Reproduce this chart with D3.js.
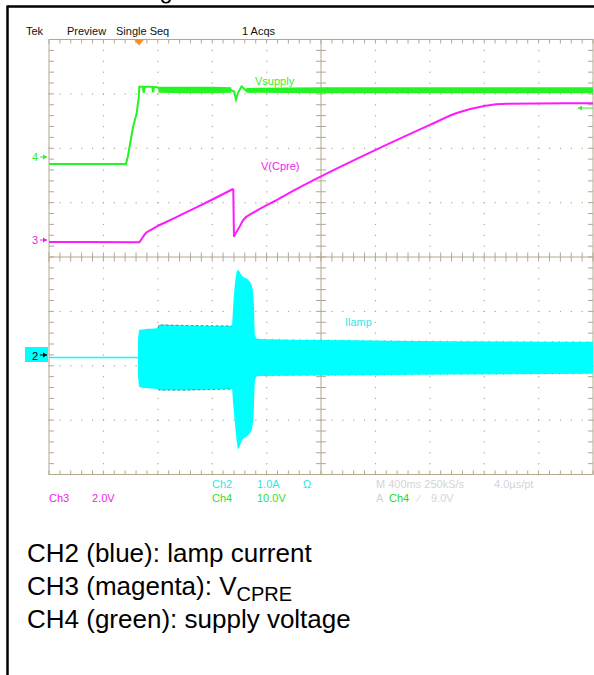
<!DOCTYPE html>
<html>
<head>
<meta charset="utf-8">
<script src="https://cdn.jsdelivr.net/npm/d3@7"></script>
<style>
    body { margin: 0; background: #fff; }
    text { font-family: "Liberation Sans", Arial, Helvetica, sans-serif; }
</style>
</head>
<body>
<div id="container"></div>
<script>
// time in ms from left edge of screen (400 ms/div)
const ch4T = [0, 566, 579, 618, 645, 660, 664, 690, 697, 703, 760, 766, 772, 800, 816, 1340, 1362, 1375, 1390, 1416, 1450, 4000];
const ch4V = [-1.3, -1.3, 0, 5.5, 8.1, 11.0, 12.9, 12.9, 11.8, 12.9, 12.9, 11.9, 12.9, 12.8, 12.3, 12.3, 12.0, 10.6, 11.8, 13.0, 12.2, 12.2];
// noisy band of the supply trace (null = gap)
const ch4BandT = [805, 1000, 1200, 1340, null, 1450, 2000, 3000, 4000];
const ch4BandHi = [12.9, 12.9, 12.9, 12.8, null, 12.7, 12.8, 12.8, 12.8];
const ch4BandLo = [11.8, 11.7, 11.7, 11.8, null, 11.8, 11.7, 11.7, 11.7];

// charge ramp before the drop, then recovery after it
const ch3RampT = [0, 664, 676, 693, 713, 743, 794, 865, 1110, 1355];
const ch3RampV = [-0.07, -0.08, 0.0, 0.13, 0.26, 0.35, 0.50, 0.67, 1.26, 1.88];
const ch3RecT = [1360, 1371, 1380, 1404, 1429, 1515, 1674, 1846, 1998, 2402, 2801, 2998, 3201, 3365, 4000];
const ch3RecV = [0.12, 0.24, 0.31, 0.51, 0.74, 1.04, 1.47, 1.94, 2.33, 3.31, 4.23, 4.67, 4.93, 5.01, 5.03];

const ch2LineT = [0, 654];
const ch2LineI = [0, 0];
const ch2T = [654, 665, 700, 800, 810, 1000, 1345, 1355, 1380, 1390, 1420, 1460, 1490, 1505, 1515, 1535, 2500, 4000];
const ch2Hi = [0.32, 0.51, 0.52, 0.54, 0.60, 0.59, 0.58, 0.97, 1.57, 1.61, 1.50, 1.44, 1.33, 1.06, 0.41, 0.34, 0.31, 0.29];
const ch2Lo = [-0.32, -0.54, -0.56, -0.58, -0.60, -0.60, -0.58, -0.87, -1.52, -1.68, -1.52, -1.44, -1.33, -1.06, -0.41, -0.34, -0.32, -0.30];

const triggerT = 662;
const triggerLevel = 9.0;

const headerLabels = [["Tek", 26], ["Preview", 67], ["Single Seq", 116], ["1 Acqs", 242]];
const notes = ["CH2 (blue): lamp current", "CH3 (magenta): V", "CH4 (green): supply voltage"];

const w = 594, h = 675;
const gLeft = 49, gRight = 593, gTop = 39.5, gBottom = 474.5;
const div = (gRight - gLeft) / 10;
const grid = "#b3a88f";
const green = "#22f522", magenta = "#ff19ff", cyan = "#00ffff";

const svg = d3.select("#container").append("svg")
    .attr("width", w).attr("height", h);

svg.append("rect").attr("width", w).attr("height", h).attr("fill", "#fff");

// cut-off piece of the page heading above the frame
svg.append("path").attr("d", "M161,0 Q162,3.5 166,3.5 Q170,3.5 171,0 L169,0 Q168,2 166,2 Q164,2 163,0 Z")
    .attr("fill", "#000");
svg.append("line").attr("x1", 7.5).attr("x2", w).attr("y1", 6.5).attr("y2", 6.5)
    .attr("stroke", "#000").attr("stroke-width", 2.5);
svg.append("line").attr("x1", 7.5).attr("x2", 7.5).attr("y1", 5.5).attr("y2", h)
    .attr("stroke", "#000").attr("stroke-width", 2.5);

const x = d3.scaleLinear().domain([0, 4000]).range([gLeft, gRight]);
const gx = d3.scaleLinear().domain([0, 10]).range([gLeft, gRight]);
const gy = d3.scaleLinear().domain([0, 8]).range([gTop, gBottom]);
const y4 = d3.scaleLinear().domain([0, 10]).range([157, 157 - div]);
const y3 = d3.scaleLinear().domain([0, 2]).range([240, 240 - div]);
const y2 = d3.scaleLinear().domain([0, 1]).range([357.5, 357.5 - div]);

// graticule
const g = svg.append("g");
const minorX = d3.range(0, 10.001, 0.2);
const minorY = d3.range(0, 8.001, 0.2);
[1, 2, 3, 4, 6, 7, 8, 9].forEach(i => {
    g.selectAll(null).data(minorY).enter().append("rect")
        .attr("x", gx(i) - 0.5).attr("y", d => gy(d) - 0.5)
        .attr("width", 1.2).attr("height", 1.2).attr("fill", grid);
});
[1, 2, 3, 5, 6, 7].forEach(i => {
    g.selectAll(null).data(minorX).enter().append("rect")
        .attr("x", d => gx(d) - 0.5).attr("y", gy(i) - 0.5)
        .attr("width", 1.2).attr("height", 1.2).attr("fill", grid);
});
g.append("rect").attr("x", gLeft).attr("y", gTop)
    .attr("width", gRight - gLeft).attr("height", gBottom - gTop)
    .attr("fill", "none").attr("stroke", grid);
g.append("line").attr("x1", gx(5)).attr("x2", gx(5)).attr("y1", gTop).attr("y2", gBottom).attr("stroke", grid);
g.append("line").attr("x1", gLeft).attr("x2", gRight).attr("y1", gy(4)).attr("y2", gy(4)).attr("stroke", grid);
const tick = (x1, y1, x2, y2) => g.append("line")
    .attr("x1", x1).attr("y1", y1).attr("x2", x2).attr("y2", y2).attr("stroke", grid);
minorX.forEach(d => {
    tick(gx(d), gTop, gx(d), gTop + 4);
    tick(gx(d), gBottom, gx(d), gBottom - 4);
    tick(gx(d), gy(4) - 4.5, gx(d), gy(4) + 4.5);
});
minorY.forEach(d => {
    tick(gLeft, gy(d), gLeft + 5, gy(d));
    tick(gRight, gy(d), gRight - 5, gy(d));
    tick(gx(5) - 5, gy(d), gx(5) + 5, gy(d));
});

// CH2 lamp current
const ch2Band = ch2T.map((t, i) => ({t: t, hi: ch2Hi[i], lo: ch2Lo[i]}));
svg.append("path").datum(ch2Band)
    .attr("d", d3.area().x(d => x(d.t)).y0(d => y2(d.lo)).y1(d => y2(d.hi)).curve(d3.curveMonotoneX))
    .attr("fill", cyan);
svg.append("path").datum(ch2LineT.map((t, i) => [t, ch2LineI[i]]))
    .attr("d", d3.line().x(d => x(d[0])).y(d => y2(d[1])))
    .attr("fill", "none").attr("stroke", cyan).attr("stroke-width", 1.5);
// darker noise specks along the band edges
[ch2Band.filter(d => d.t >= 800 && d.t <= 1345), ch2Band.filter(d => d.t >= 1535)].forEach((seg, k) => {
    ["hi", "lo"].forEach(key => {
        svg.append("path").datum(seg)
            .attr("d", d3.line().x(d => x(d.t)).y(d => y2(d[key])))
            .attr("fill", "none").attr("stroke", "#2f7f86")
            .attr("stroke-width", 1).attr("stroke-dasharray", k ? "1 6" : "3 2")
            .attr("opacity", k ? 0.5 : 0.8);
    });
});

// CH4 supply voltage
const ch4Band = ch4BandT.map((t, i) => ({t: t, hi: ch4BandHi[i], lo: ch4BandLo[i]}));
svg.append("path").datum(ch4Band)
    .attr("d", d3.area().defined(d => d.t !== null).x(d => x(d.t)).y0(d => y4(d.lo)).y1(d => y4(d.hi)))
    .attr("fill", green);
svg.append("path").datum(ch4T.map((t, i) => [t, ch4V[i]]))
    .attr("d", d3.line().x(d => x(d.t === undefined ? d[0] : d.t)).y(d => y4(d[1])))
    .attr("fill", "none").attr("stroke", green).attr("stroke-width", 2);

// CH3 V(Cpre): ramp, sudden drop, recovery
const ramp = ch3RampT.map((t, i) => [t, ch3RampV[i]]);
const rec = ch3RecT.map((t, i) => [t, ch3RecV[i]]);
const smooth = d3.line().x(d => x(d[0])).y(d => y3(d[1])).curve(d3.curveMonotoneX);
[ramp, [ramp[ramp.length - 1], rec[0]], rec].forEach(seg => {
    svg.append("path").datum(seg).attr("d", smooth)
        .attr("fill", "none").attr("stroke", magenta).attr("stroke-width", 2)
        .attr("stroke-linejoin", "round");
});

// trace labels
const label = (t, yy, s, c) => svg.append("text").attr("x", t).attr("y", yy)
    .attr("font-size", 11).attr("fill", c).text(s);
label(255, 84.5, "Vsupply", "#33ee33");
label(261, 170, "V(Cpre)", "#ee22ee");
label(345, 326, "Ilamp", "#33e8e8");

// channel ground markers
const arrow = (x1, x2, yy, c) => {
    svg.append("line").attr("x1", x1).attr("x2", x2).attr("y1", yy).attr("y2", yy)
        .attr("stroke", c).attr("stroke-width", 1);
    const dir = x2 > x1 ? 1 : -1;
    svg.append("path")
        .attr("d", `M${x2},${yy}L${x2 - dir * 4},${yy - 2.5}L${x2 - dir * 4},${yy + 2.5}Z`)
        .attr("fill", c);
};
label(32, y4(0) + 4, "4", "#33ee33");
arrow(40, 47, y4(0), "#33ee33");
label(32, y3(0) + 4, "3", "#ee22ee");
arrow(40, 47, y3(0), "#ee22ee");
svg.append("rect").attr("x", 25).attr("y", y2(0) - 10.5).attr("width", 23).attr("height", 15).attr("fill", cyan);
label(32, y2(0) + 2.5, "2", "#000");
arrow(40, 47, y2(0) - 2.5, "#000");
arrow(593, 578, y4(triggerLevel), "#33ee33");

// trigger position marker
svg.append("path")
    .attr("d", `M${x(triggerT) - 5},${gTop}L${x(triggerT) + 5},${gTop}L${x(triggerT)},${gTop + 6}Z`)
    .attr("fill", "#ff8c1a");

// header
svg.selectAll(".hdr").data(headerLabels).enter().append("text")
    .attr("x", d => d[1]).attr("y", 35).attr("font-size", 11).attr("fill", "#111")
    .text(d => d[0]);

// settings readout
const readout = [
    ["Ch2", 212, 488, "#33e5e5"], ["1.0A", 257, 488, "#33e5e5"], ["\u03a9", 303, 488, "#33e5e5"],
    ["M 400ms 250kS/s", 376, 488, "#d4d4d4"], ["4.0\u00b5s/pt", 494, 488, "#d4d4d4"],
    ["Ch3", 49, 502, "#ee22ee"], ["2.0V", 92, 502, "#ee22ee"],
    ["Ch4", 212, 502, "#33dd33"], ["10.0V", 257, 502, "#33dd33"],
    ["A", 376, 502, "#d4d4d4"], ["Ch4", 389, 502, "#22dd22"], ["\u2215", 418, 502, "#d4d4d4"],
    ["9.0V", 431, 502, "#d4d4d4"]
];
svg.selectAll(".ro").data(readout).enter().append("text")
    .attr("x", d => d[1]).attr("y", d => d[2]).attr("font-size", 11).attr("fill", d => d[3])
    .text(d => d[0]);

// caption
const cap = svg.append("g").attr("font-size", 26).attr("fill", "#000");
notes.forEach((s, i) => {
    const t = cap.append("text").attr("x", 27).attr("y", 562 + i * 33).text(s);
    if (i === 1) t.append("tspan").attr("font-size", 20).attr("dy", 6).text("CPRE");
});
</script>
</body>
</html>
